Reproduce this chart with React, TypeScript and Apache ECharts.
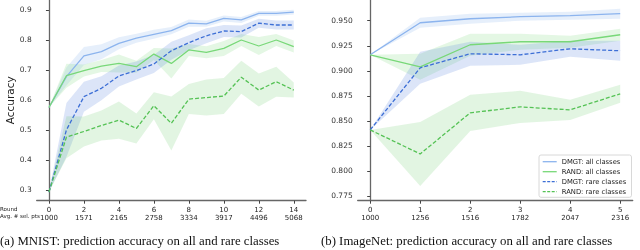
import React, { useEffect, useRef } from "react";
import * as echarts from "echarts";

// ---- MNIST (a) ----
const roundsA = [0, 1, 2, 3, 4, 5, 6, 7, 8, 9, 10, 11, 12, 13, 14];
const tickRoundsA = [0, 2, 4, 6, 8, 10, 12, 14];
const tickPtsA = [1000, 1571, 2165, 2758, 3334, 3917, 4496, 5068];
const mnistDmgtAll = [0.575, 0.678, 0.747, 0.761, 0.789, 0.806, 0.819, 0.831, 0.856, 0.854, 0.872, 0.867, 0.889, 0.889, 0.893];
const mnistDmgtAllStd = [0, 0.03, 0.03, 0.025, 0.02, 0.015, 0.015, 0.012, 0.012, 0.01, 0.01, 0.01, 0.008, 0.008, 0.008];
const mnistRandAll = [0.575, 0.681, 0.698, 0.713, 0.722, 0.711, 0.753, 0.722, 0.767, 0.759, 0.772, 0.8, 0.78, 0.8, 0.778];
const mnistRandAllStd = [0, 0.04, 0.02, 0.02, 0.03, 0.02, 0.02, 0.05, 0.02, 0.02, 0.025, 0.02, 0.03, 0.02, 0.02];
const mnistDmgtRare = [0.293, 0.5, 0.611, 0.639, 0.68, 0.698, 0.72, 0.764, 0.791, 0.814, 0.83, 0.828, 0.856, 0.85, 0.85];
const mnistDmgtRareStd = [0, 0.09, 0.05, 0.04, 0.035, 0.03, 0.03, 0.03, 0.025, 0.025, 0.02, 0.02, 0.015, 0.015, 0.015];
const mnistRandRare = [0.293, 0.476, 0.495, 0.515, 0.533, 0.505, 0.581, 0.522, 0.603, 0.608, 0.613, 0.676, 0.633, 0.661, 0.633];
const mnistRandRareStd = [0, 0.07, 0.05, 0.05, 0.062, 0.05, 0.045, 0.09, 0.05, 0.06, 0.06, 0.055, 0.055, 0.05, 0.025];

// ---- ImageNet (b) ----
const roundsB = [0, 1, 2, 3, 4, 5];
const tickPtsB = [1000, 1256, 1516, 1782, 2047, 2316];
const inDmgtAll = [0.916, 0.948, 0.952, 0.954, 0.955, 0.957];
const inDmgtAllStd = [0, 0.005, 0.005, 0.004, 0.004, 0.005];
const inRandAll = [0.916, 0.904, 0.926, 0.929, 0.929, 0.936];
const inRandAllStd = [0, 0.013, 0.011, 0.008, 0.006, 0.006];
const inDmgtRare = [0.841, 0.903, 0.917, 0.916, 0.922, 0.92];
const inDmgtRareStd = [0, 0.016, 0.012, 0.01, 0.008, 0.01];
const inRandRare = [0.841, 0.817, 0.858, 0.864, 0.861, 0.877];
const inRandRareStd = [0, 0.032, 0.018, 0.016, 0.01, 0.009];

const names = ["DMGT: all classes", "RAND: all classes", "DMGT: rare classes", "RAND: rare classes"];
const colors = ["#8cb4ee", "#78d878", "#3d6fd6", "#55c255"];
const fills = [
  "rgba(140,180,238,0.22)",
  "rgba(120,216,120,0.2)",
  "rgba(61,111,214,0.18)",
  "rgba(85,194,85,0.17)",
];

const FONT = "DejaVu Sans";

function bandSeries(xs: number[], mean: number[], std: number[], idx: number, gi: number) {
  const data = xs.map((x, i) => [x, mean[i] - std[i], mean[i] + std[i]]);
  return {
    type: "custom",
    xAxisIndex: gi,
    yAxisIndex: gi,
    z: 1,
    silent: true,
    clip: true,
    encode: { x: 0, y: [1, 2] },
    data,
    renderItem: (params: any, api: any) => {
      if (params.dataIndex !== 0) return null;
      const upper = data.map((d) => api.coord([d[0], d[2]]));
      const lower = data.map((d) => api.coord([d[0], d[1]])).reverse();
      return {
        type: "polygon",
        shape: { points: upper.concat(lower) },
        style: { fill: fills[idx] },
      };
    },
  };
}

function lineSeries(xs: number[], mean: number[], idx: number, gi: number) {
  return {
    type: "line",
    name: names[idx],
    xAxisIndex: gi,
    yAxisIndex: gi,
    z: 3,
    symbol: "none",
    data: xs.map((x, i) => [x, mean[i]]),
    lineStyle: {
      color: colors[idx],
      width: 1.3,
      type: idx >= 2 ? [4, 2] : "solid",
    },
    itemStyle: { color: colors[idx] },
  };
}

function legendGraphic() {
  const x0 = 539;
  const y0 = 155;
  const children: any[] = [
    {
      type: "rect",
      shape: { x: 0, y: 0, width: 92.5, height: 42.3, r: 2 },
      style: { fill: "#fff", stroke: "#d8d8d8", lineWidth: 1 },
    },
  ];
  names.forEach((n, i) => {
    const cy = 6.7 + i * 10;
    children.push({
      type: "line",
      shape: { x1: 3.7, y1: cy, x2: 17.7, y2: cy },
      style: { stroke: colors[i], lineWidth: 1.3, lineDash: i >= 2 ? [3, 1.5] : null },
    });
    children.push({
      type: "text",
      x: 22.7,
      y: cy,
      style: { text: n, fontSize: 6.8, fill: "#222", fontFamily: FONT, verticalAlign: "middle" },
    });
  });
  return { type: "group", x: x0, y: y0, z: 10, children };
}

export default function App() {
  const ref = useRef<HTMLDivElement>(null);
  useEffect(() => {
    if (!ref.current) return;
    const chart = echarts.init(ref.current, null, { renderer: "svg" });
    const axisLine = { show: true, lineStyle: { color: "#666", width: 1.3 } };
    const axisTick = { show: true, length: 3, lineStyle: { color: "#444", width: 1 } };
    const yLabel = { fontSize: 7.5, color: "#333", fontFamily: FONT, margin: 5 };
    const xLabel = { fontSize: 7, color: "#222", fontFamily: FONT, margin: 5, lineHeight: 8 };
    chart.setOption({
      animation: false,
      grid: [
        { left: 36.7, right: 334, top: 0, bottom: 49.3 },
        { left: 357.7, right: 7.3, top: 0, bottom: 49.3 },
      ],
      xAxis: [
        {
          type: "value",
          gridIndex: 0,
          min: -0.7,
          max: 14.7,
          splitLine: { show: false },
          axisLine,
          axisTick: { ...axisTick, customValues: tickRoundsA },
          axisLabel: {
            ...xLabel,
            customValues: tickRoundsA,
            formatter: (v: number) => {
              const i = tickRoundsA.indexOf(v);
              return `${v}\n${tickPtsA[i]}`;
            },
          },
        },
        {
          type: "value",
          gridIndex: 1,
          min: -0.25,
          max: 5.25,
          splitLine: { show: false },
          axisLine,
          axisTick: { ...axisTick, customValues: roundsB },
          axisLabel: {
            ...xLabel,
            customValues: roundsB,
            formatter: (v: number) => {
              const i = roundsB.indexOf(v);
              return `${v}\n${tickPtsB[i]}`;
            },
          },
        },
      ],
      yAxis: [
        {
          type: "value",
          gridIndex: 0,
          min: 0.2643,
          max: 0.9333,
          splitLine: { show: false },
          axisLine,
          axisTick: { ...axisTick, customValues: [0.3, 0.4, 0.5, 0.6, 0.7, 0.8, 0.9] },
          axisLabel: {
            ...yLabel,
            customValues: [0.3, 0.4, 0.5, 0.6, 0.7, 0.8, 0.9],
            formatter: (v: number) => v.toFixed(1),
          },
          name: "Accuracy",
          nameLocation: "middle",
          nameGap: 20,
          nameRotate: 90,
          nameTextStyle: { fontSize: 10.5, color: "#222", fontFamily: FONT },
        },
        {
          type: "value",
          gridIndex: 1,
          min: 0.7703,
          max: 0.9707,
          splitLine: { show: false },
          axisLine,
          axisTick: { ...axisTick, customValues: [0.775, 0.8, 0.825, 0.85, 0.875, 0.9, 0.925, 0.95] },
          axisLabel: {
            ...yLabel,
            customValues: [0.775, 0.8, 0.825, 0.85, 0.875, 0.9, 0.925, 0.95],
            formatter: (v: number) => v.toFixed(3),
          },
        },
      ],
      graphic: [
        legendGraphic(),
        { type: "text", left: 0, top: 205.5, style: { text: "Round", fontSize: 5.5, fill: "#222", fontFamily: FONT } },
        { type: "text", left: 0, top: 213, style: { text: "Avg. # sel. pts", fontSize: 5.5, fill: "#222", fontFamily: FONT } },
        {
          type: "text",
          left: 0,
          top: 234,
          style: { text: "(a) MNIST: prediction accuracy on all and rare classes", fontSize: 12.8, fill: "#111", fontFamily: "Liberation Serif" },
        },
        {
          type: "text",
          left: 321,
          top: 234,
          style: { text: "(b) ImageNet: prediction accuracy on all and rare classes", fontSize: 12.8, fill: "#111", fontFamily: "Liberation Serif" },
        },
      ],
      series: [
        bandSeries(roundsB, inDmgtAll, inDmgtAllStd, 0, 1),
        bandSeries(roundsB, inRandAll, inRandAllStd, 1, 1),
        bandSeries(roundsB, inDmgtRare, inDmgtRareStd, 2, 1),
        bandSeries(roundsB, inRandRare, inRandRareStd, 3, 1),
        lineSeries(roundsB, inDmgtAll, 0, 1),
        lineSeries(roundsB, inRandAll, 1, 1),
        lineSeries(roundsB, inDmgtRare, 2, 1),
        lineSeries(roundsB, inRandRare, 3, 1),
        bandSeries(roundsA, mnistDmgtAll, mnistDmgtAllStd, 0, 0),
        bandSeries(roundsA, mnistRandAll, mnistRandAllStd, 1, 0),
        bandSeries(roundsA, mnistDmgtRare, mnistDmgtRareStd, 2, 0),
        bandSeries(roundsA, mnistRandRare, mnistRandRareStd, 3, 0),
        lineSeries(roundsA, mnistDmgtAll, 0, 0),
        lineSeries(roundsA, mnistRandAll, 1, 0),
        lineSeries(roundsA, mnistDmgtRare, 2, 0),
        lineSeries(roundsA, mnistRandRare, 3, 0),
      ],
    });
    return () => chart.dispose();
  }, []);
  return <div ref={ref} style={{ width: 640, height: 250, position: "fixed", left: 0, top: 0 }} />;
}
